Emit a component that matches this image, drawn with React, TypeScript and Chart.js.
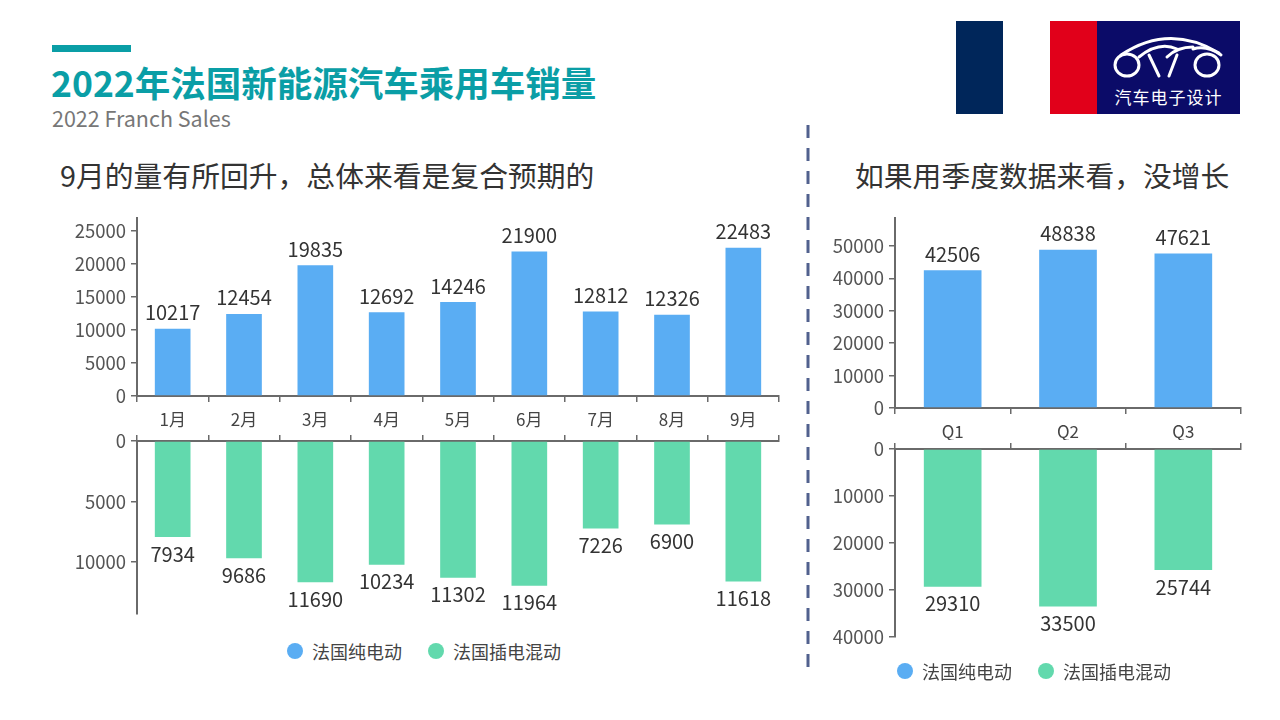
import React, { useEffect, useRef } from "react";
import { Chart, registerables } from "chart.js";

Chart.register(...registerables);

// ---------- data ----------
const MONTHS = ["1月", "2月", "3月", "4月", "5月", "6月", "7月", "8月", "9月"];
const BEV_MONTHLY = [10217, 12454, 19835, 12692, 14246, 21900, 12812, 12326, 22483];
const PHEV_MONTHLY = [7934, 9686, 11690, 10234, 11302, 11964, 7226, 6900, 11618];
const QUARTERS = ["Q1", "Q2", "Q3"];
const BEV_QUARTERLY = [42506, 48838, 47621];
const PHEV_QUARTERLY = [29310, 33500, 25744];
const TICKS_MONTH_TOP = [0, 5000, 10000, 15000, 20000, 25000];
const TICKS_MONTH_BOTTOM = [0, 5000, 10000];
const TICKS_Q_TOP = [0, 10000, 20000, 30000, 40000, 50000];
const TICKS_Q_BOTTOM = [0, 10000, 20000, 30000, 40000];
const SERIES_NAMES = ["法国纯电动", "法国插电混动"];

const BLUE = "#5AADF3";
const GREEN = "#62D9AD";
const AXIS = "#6a6a6a";
const FONT = '"Noto Sans CJK SC", "Noto Sans", sans-serif';

const valueLabels = {
  id: "valueLabels",
  afterDatasetsDraw(chart: any) {
    const ctx = chart.ctx;
    const reversed = chart.options.scales.y.reverse;
    ctx.save();
    ctx.font = `20px ${FONT}`;
    ctx.fillStyle = "#333";
    ctx.textAlign = "center";
    ctx.textBaseline = "middle";
    chart.data.datasets.forEach((ds: any, i: number) => {
      const meta = chart.getDatasetMeta(i);
      meta.data.forEach((el: any, j: number) => {
        const y = reversed ? el.y + 17 : el.y - 16;
        ctx.fillText(String(ds.data[j]), el.x, y);
      });
    });
    ctx.restore();
  },
};

type PanelProps = {
  left: number; top: number; width: number; height: number;
  labels: string[]; values: number[]; color: string; name: string;
  reversed: boolean; yMax: number; yTicks: number[];
  axisW: number; xAxisH: number;
  pad: { top: number; right: number; bottom: number; left: number };
};

function BarPanel(p: PanelProps) {
  const ref = useRef<HTMLCanvasElement | null>(null);
  useEffect(() => {
    const gridCfg = {
      display: true,
      drawOnChartArea: false,
      drawTicks: true,
      tickLength: 6,
      color: AXIS,
      lineWidth: 1.5,
    };
    const chart = new Chart(ref.current as HTMLCanvasElement, {
      type: "bar",
      data: {
        labels: p.labels,
        datasets: [
          {
            label: p.name,
            data: p.values,
            backgroundColor: p.color,
            barPercentage: 0.5,
            categoryPercentage: 1,
          },
        ],
      },
      options: {
        responsive: false,
        animation: false,
        devicePixelRatio: 1,
        layout: { padding: p.pad },
        plugins: { legend: { display: false }, tooltip: { enabled: false } },
        scales: {
          x: {
            position: p.reversed ? "top" : "bottom",
            grid: gridCfg as any,
            border: { display: true, color: AXIS, width: 2 },
            ticks: {
              display: !p.reversed,
              color: "#444",
              font: { family: FONT, size: 17 },
              padding: 7,
            },
            afterFit: (s: any) => {
              s.height = p.xAxisH;
            },
          },
          y: {
            reverse: p.reversed,
            min: 0,
            max: p.yMax,
            afterBuildTicks: (s: any) => {
              s.ticks = p.yTicks.map((v) => ({ value: v }));
            },
            grid: gridCfg as any,
            border: { display: true, color: AXIS, width: 2 },
            ticks: {
              color: "#555",
              font: { family: FONT, size: 18.5 },
              padding: 5,
              callback: (v: any) => String(v),
            },
            afterFit: (s: any) => {
              s.width = p.axisW;
            },
          },
        },
      } as any,
      plugins: [valueLabels],
    });
    return () => chart.destroy();
  }, []);
  return (
    <canvas
      ref={ref}
      width={p.width}
      height={p.height}
      style={{ position: "absolute", left: p.left, top: p.top, width: p.width, height: p.height }}
    />
  );
}

function Legend({ left, top }: { left: number; top: number }) {
  const colors = [BLUE, GREEN];
  return (
    <div style={{ position: "absolute", left, top, display: "flex", alignItems: "center", fontFamily: FONT, fontSize: 18, color: "#444", whiteSpace: "nowrap" }}>
      {SERIES_NAMES.map((n, i) => (
        <div key={n} style={{ display: "flex", alignItems: "center", marginRight: i === 0 ? 26 : 0 }}>
          <span style={{ width: 16, height: 16, borderRadius: 8, background: colors[i], display: "inline-block", marginRight: 9 }} />
          <span>{n}</span>
        </div>
      ))}
    </div>
  );
}

function Logo() {
  return (
    <div style={{ position: "absolute", left: 1097, top: 21, width: 143, height: 93, background: "#0b0b68" }}>
      <svg width="143" height="93" style={{ position: "absolute", left: 0, top: 0 }}>
        <g fill="none" stroke="#fff" strokeWidth="3" strokeLinecap="round">
          <ellipse cx="30" cy="44" rx="12" ry="11" />
          <ellipse cx="110" cy="44" rx="12" ry="11" />
          <path d="M24 34 Q72 2 122 32" />
          <path d="M42 36 Q62 20 80 28" />
          <path d="M52 34 L62 55" />
          <path d="M70 36 Q80 26 96 26" />
          <path d="M80 34 L72 55" />
          <path d="M96 28 Q110 24 124 34" />
        </g>
      </svg>
      <div style={{ position: "absolute", left: 0, width: 143, top: 63, textAlign: "center", color: "#fff", fontFamily: FONT, fontSize: 17, letterSpacing: 1 }}>
        汽车电子设计
      </div>
    </div>
  );
}

export default function App() {
  useEffect(() => {
    document.body.style.margin = "0";
  }, []);
  return (
    <div style={{ position: "relative", width: 1280, height: 720, background: "#fff", overflow: "hidden", fontFamily: FONT }}>
      {/* title block */}
      <div style={{ position: "absolute", left: 52, top: 45, width: 79, height: 7, background: "#0a9ea6" }} />
      <div style={{ position: "absolute", left: 51, top: 58, fontSize: 35.5, fontWeight: 700, color: "#0a9ea6", whiteSpace: "nowrap", lineHeight: "48px" }}>
        2022年法国新能源汽车乘用车销量
      </div>
      <div style={{ position: "absolute", left: 52, top: 103, fontSize: 21.5, color: "#777", whiteSpace: "nowrap", lineHeight: "30px" }}>
        2022 Franch Sales
      </div>

      {/* flag + logo */}
      <div style={{ position: "absolute", left: 956, top: 21, width: 47, height: 93, background: "#00265a" }} />
      <div style={{ position: "absolute", left: 1050, top: 21, width: 47, height: 93, background: "#e1001a" }} />
      <Logo />

      {/* headings */}
      <div style={{ position: "absolute", left: 60, top: 155, fontSize: 28.8, color: "#333", whiteSpace: "nowrap", lineHeight: "40px" }}>
        9月的量有所回升，总体来看是复合预期的
      </div>
      <div style={{ position: "absolute", left: 855, top: 155, fontSize: 28.8, color: "#333", whiteSpace: "nowrap", lineHeight: "40px" }}>
        如果用季度数据来看，没增长
      </div>

      {/* dashed divider */}
      <svg width="10" height="560" style={{ position: "absolute", left: 803, top: 120 }}>
        <line x1="5" y1="5" x2="5" y2="552" stroke="#51618e" strokeWidth="3" strokeDasharray="13 10" />
      </svg>

      {/* monthly charts */}
      <BarPanel left={40} top={200} width={760} height={230} labels={MONTHS} values={BEV_MONTHLY} color={BLUE} name={SERIES_NAMES[0]}
        reversed={false} yMax={27000} yTicks={TICKS_MONTH_TOP} axisW={97} xAxisH={34} pad={{ top: 18, right: 21, bottom: 0, left: 0 }} />
      <BarPanel left={40} top={425} width={760} height={205} labels={MONTHS} values={PHEV_MONTHLY} color={GREEN} name={SERIES_NAMES[1]}
        reversed={true} yMax={14300} yTicks={TICKS_MONTH_BOTTOM} axisW={97} xAxisH={8} pad={{ top: 0, right: 21, bottom: 10, left: 0 }} />
      <Legend left={287} top={638} />

      {/* quarterly charts */}
      <BarPanel left={800} top={200} width={460} height={240} labels={QUARTERS} values={BEV_QUARTERLY} color={BLUE} name={SERIES_NAMES[0]}
        reversed={false} yMax={58600} yTicks={TICKS_Q_TOP} axisW={95} xAxisH={32} pad={{ top: 18, right: 19, bottom: 0, left: 0 }} />
      <BarPanel left={800} top={433} width={460} height={222} labels={QUARTERS} values={PHEV_QUARTERLY} color={GREEN} name={SERIES_NAMES[1]}
        reversed={true} yMax={40000} yTicks={TICKS_Q_BOTTOM} axisW={95} xAxisH={8} pad={{ top: 0, right: 19, bottom: 18, left: 0 }} />
      <Legend left={897} top={658} />
    </div>
  );
}
